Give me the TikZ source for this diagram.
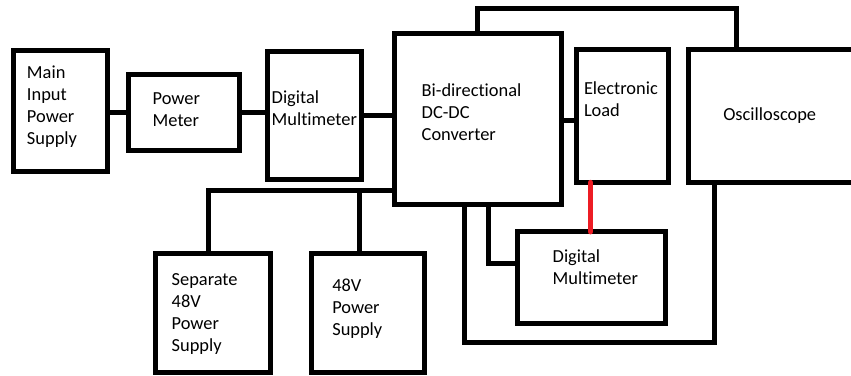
\documentclass[tikz,border=0pt]{standalone}
\usepackage{fontspec}
\setmainfont[Ligatures={NoCommon}]{Carlito}
\begin{document}
\begin{tikzpicture}[x=1pt,y=-1pt,
  box/.style={draw=black, line width=5pt, rectangle, inner sep=0pt, outer sep=0pt},
  wire/.style={draw=black, line width=5pt},
  redwire/.style={draw=redline, line width=5.5pt, line cap=round},
  lbl/.style={anchor=base west, inner sep=0pt, outer sep=0pt, align=left, text=black,
    font=\fontsize{18.4}{22}\selectfont}]
\definecolor{redline}{RGB}{237,28,36}
\useasboundingbox (0,0) rectangle (851,375);
\clip (0,0) rectangle (851,375);
% boxes
\node[box, minimum width=94pt, minimum height=120.2pt] (main) at (60.5,110.9) {};
\node[box, minimum width=111pt, minimum height=76pt] (pm) at (183.5,112) {};
\node[box, minimum width=94pt, minimum height=128pt] (dmm1) at (314,115) {};
\node[box, minimum width=167pt, minimum height=170.7pt] (conv) at (477.5,118.65) {};
\node[box, minimum width=92pt, minimum height=133pt] (load) at (622,116) {};
\node[box, minimum width=192pt, minimum height=133pt] (osc) at (784,116) {};
\node[box, minimum width=148.5pt, minimum height=91.3pt] (dmm2) at (591.25,277.35) {};
\node[box, minimum width=114.5pt, minimum height=119.5pt] (sep) at (212.75,312.75) {};
\node[box, minimum width=113.5pt, minimum height=119.2pt] (ps48) at (367.75,312.9) {};
% labels (anchored at the baseline of the last line)
\node[lbl] (tmain) at (27,144) {Main\\Input\\Power\\Supply};
\node[lbl] (tpm) at (152.7,126) {Power\\Meter};
\node[lbl] (tdmm1) at (271.7,125) {Digital\\Multimeter};
\node[lbl] (tconv) at (421.7,140.7) {Bi-directional\\DC-DC\\Converter};
\node[lbl] (tload) at (584,116) {Electronic\\Load};
\node[lbl] (tosc) at (723.3,120) {Oscilloscope};
\node[lbl] (tdmm2) at (552.7,284.3) {Digital\\Multimeter};
\node[lbl] (tsep) at (171.7,351.7) {Separate\\48V\\Power\\Supply};
\node[lbl] (tps48) at (332.3,335.7) {48V\\Power\\Supply};
% coordinates
\coordinate (cl) at (0,120);
\coordinate (tr) at (736,8);
\coordinate (rx) at (590.5,0);
\coordinate (a) at (488,263.3);
\coordinate (b) at (464,342);
\coordinate (c) at (714.5,342);
\coordinate (d) at (208,190);
\coordinate (e) at (359,190);
% connectors
\draw[wire] (main.east |- pm.west) -- (pm.west);
\draw[wire] (pm.east) -- (dmm1.west |- pm.east);
\draw[wire] (dmm1.east) -- (conv.west |- dmm1.east);
\draw[wire] (conv.east |- cl) -- (load.west |- cl);
\draw[wire] (conv.north) |- (tr) -- (tr |- osc.north);
\draw[wire] (a |- conv.south) |- (dmm2.west |- a);
\draw[wire] (b |- conv.south) -- (b) -- (c) -- (c |- osc.south);
\draw[wire] (conv.west |- d) -- (d) -- (d |- sep.north);
\draw[wire] (e) -- (e |- ps48.north);
\draw[redwire] (rx |- load.south) -- (rx |- dmm2.north);
\end{tikzpicture}
\end{document}
